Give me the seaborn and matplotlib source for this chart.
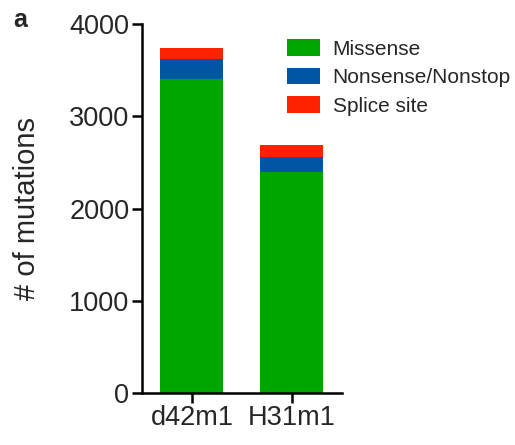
import numpy as np
import pandas as pd
import matplotlib
matplotlib.use("Agg")
import matplotlib.pyplot as plt
from matplotlib.patches import Patch
import seaborn as sns

samples = ["d42m1", "H31m1"]
missense = [3404, 2399]
nonsense = [220, 156]
splice = [119, 133]
categories = ["Missense", "Nonsense/Nonstop", "Splice site"]
colors = ["#00A600", "#0055A5", "#FF2200"]

sns.set_style("ticks")
plt.rcParams['font.family'] = ['Liberation Sans', 'DejaVu Sans']

fig = plt.figure(figsize=(5.15, 4.45), dpi=100)
ax = fig.add_axes([0.2757, 0.1169, 0.3883, 0.8291])

layers = [missense, nonsense, splice]
cum = np.cumsum(np.array(layers), axis=0)
# draw from top layer down so lower segments cover upper totals
for i in range(len(layers) - 1, -1, -1):
    df = pd.DataFrame({"sample": samples, "value": cum[i]})
    sns.barplot(data=df, x="sample", y="value", color=colors[i], ax=ax,
                width=0.63, saturation=1, linewidth=0, order=samples)

ax.set_xlim(-0.5, 1.5)
ax.set_ylim(0, 4000)
ax.set_yticks([0, 1000, 2000, 3000, 4000])
ax.set_xlabel("")
ax.set_ylabel("# of mutations", fontsize=21, labelpad=20)
ax.tick_params(axis="both", labelsize=19.5, width=1.8, length=7, pad=2, color="black")
for s in ["left", "bottom"]:
    ax.spines[s].set_linewidth(1.8)
    ax.spines[s].set_color("black")
sns.despine(ax=ax)

handles = [Patch(facecolor=c, edgecolor="none") for c in colors]
fig.legend(handles, categories, loc="upper left", bbox_to_anchor=(0.558, 0.912),
           frameon=False, fontsize=15, handlelength=1.55, handleheight=0.87,
           handletextpad=0.62, labelspacing=0.42, borderaxespad=0, borderpad=0)

fig.text(0.025, 0.939, "a", fontsize=18, fontweight="bold", va="baseline", ha="left")

fig.savefig("out.png", dpi=100)
